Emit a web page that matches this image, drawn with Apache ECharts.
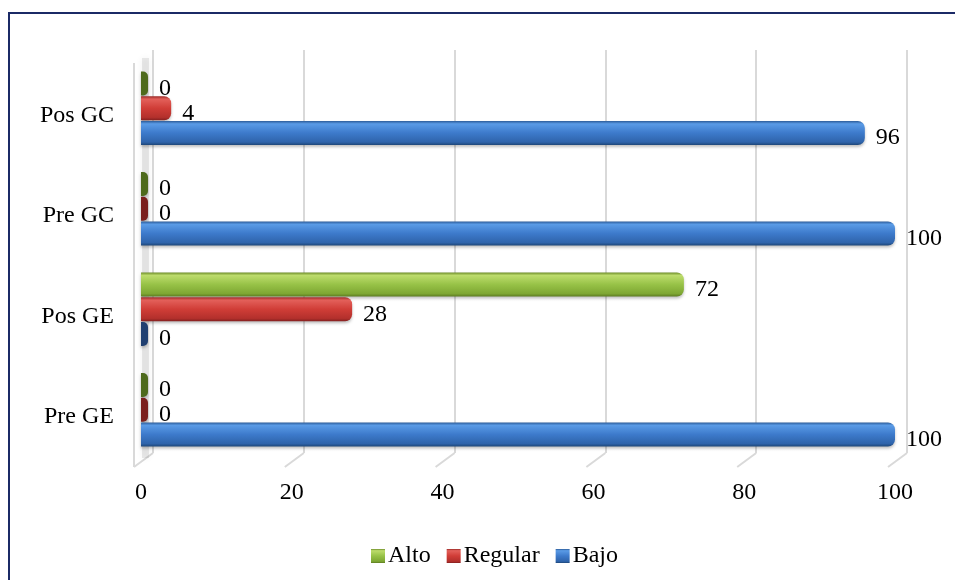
<!DOCTYPE html>
<html>
<head>
<meta charset="utf-8">
<script src="https://cdn.jsdelivr.net/npm/echarts@6/dist/echarts.min.js"></script>
<style>
html, body { margin: 0; padding: 0; background: #ffffff; }
#chart { width: 955px; height: 580px; }
</style>
</head>
<body>
<div id="chart"></div>
<script>
// Categories, bottom to top
const categories = ['Pre GE', 'Pos GE', 'Pre GC', 'Pos GC'];
// Series values (%)
const bajo = [100, 0, 100, 96];
const regular = [0, 28, 0, 4];
const alto = [0, 72, 0, 0];
// Value axis ticks
const xTicks = [0, 20, 40, 60, 80, 100];

const FONT = "'Liberation Serif', 'Times New Roman', serif";
const FS = 24;

function cylinder(stops) {
  return new echarts.graphic.LinearGradient(0, 0, 0, 1, stops.map(c => ({ offset: c[0], color: c[1] })));
}

const palette = {
  Bajo: {
    fill: cylinder([[0, '#2c5b98'], [0.12, '#5a9be6'], [0.5, '#3d7acb'], [0.88, '#2f64ab'], [1, '#1e4779']]),
    zero: '#1f3f70', legend: '#3b76c4'
  },
  Regular: {
    fill: cylinder([[0, '#9a2a27'], [0.12, '#e3605a'], [0.5, '#d03d37'], [0.88, '#b3302c'], [1, '#842020']]),
    zero: '#7a1f1d', legend: '#c9393a'
  },
  Alto: {
    fill: cylinder([[0, '#6e8d2a'], [0.12, '#bddc6c'], [0.5, '#97c247'], [0.88, '#7ea733'], [1, '#5c7b20']]),
    zero: '#4e6a1c', legend: '#8fb83e'
  }
};

function barSeries(name, values) {
  const p = palette[name];
  return {
    name: name,
    type: 'bar',
    xAxisIndex: 0,
    yAxisIndex: 0,
    barWidth: 24,
    barGap: '3%',
    barCategoryGap: '27%',
    barMinHeight: 7,
    color: p.legend,
    data: values.map(v => ({
      value: v,
      itemStyle: v === 0 ? { color: p.zero, borderRadius: [0, 5, 5, 0] } : undefined
    })),
    itemStyle: {
      color: p.fill,
      borderRadius: [0, 7, 7, 0],
      shadowColor: 'rgba(0,0,0,0.25)',
      shadowBlur: 3,
      shadowOffsetY: 2
    },
    label: {
      show: true,
      position: 'right',
      distance: 11,
      offset: [0, 5],
      color: '#000',
      fontFamily: FONT,
      fontSize: FS
    },
    z: 3
  };
}

const chart = echarts.init(document.getElementById('chart'), null, { renderer: 'canvas' });

chart.setOption({
  animation: false,
  backgroundColor: '#ffffff',
  grid: [
    { left: 141, width: 754, top: 58, height: 402 },   // front plane: bars
    { left: 153, width: 754, top: 50, height: 403 },   // back wall: gridlines
    { left: 141, width: 754, top: 65, height: 402 }    // category labels
  ],
  xAxis: [
    {
      gridIndex: 0, type: 'value', min: 0, max: 100, interval: 20,
      axisLine: { show: false }, axisTick: { show: false }, splitLine: { show: false },
      axisLabel: { color: '#000', fontFamily: FONT, fontSize: FS, margin: 21 }
    },
    {
      gridIndex: 1, type: 'value', min: 0, max: 100, interval: 20,
      axisLine: { show: false }, axisTick: { show: false }, axisLabel: { show: false },
      splitLine: { show: true, lineStyle: { color: '#d9d9d9', width: 2 } }
    },
    { gridIndex: 2, type: 'value', min: 0, max: 100, show: false, splitLine: { show: false } }
  ],
  yAxis: [
    { gridIndex: 0, type: 'category', data: categories, show: false },
    { gridIndex: 1, type: 'value', show: false, splitLine: { show: false } },
    {
      gridIndex: 2, type: 'category', data: categories,
      axisLine: { show: false }, axisTick: { show: false },
      axisLabel: { color: '#000', fontFamily: FONT, fontSize: FS, margin: 27 }
    }
  ],
  legend: {
    data: ['Alto', 'Regular', 'Bajo'],
    left: 366,
    top: 539,
    icon: 'rect',
    itemWidth: 14,
    itemHeight: 14,
    itemGap: 16,
    textStyle: { color: '#000', fontFamily: FONT, fontSize: FS, padding: [0, 0, 0, -2] }
  },
  series: [
    barSeries('Alto', alto),
    barSeries('Regular', regular),
    barSeries('Bajo', bajo)
  ]
});

// 3D wall edges: floor diagonals under each back gridline, front edge of the side wall, frame
const backBottom = 453;
const graphics = [];
xTicks.forEach(v => {
  const xb = chart.convertToPixel({ xAxisIndex: 1 }, v);
  graphics.push({
    type: 'line', z: 1, silent: true,
    shape: { x1: xb, y1: backBottom, x2: xb - 19, y2: backBottom + 14 },
    style: { stroke: '#d9d9d9', lineWidth: 2 }
  });
});
const x0 = chart.convertToPixel({ xAxisIndex: 1 }, 0);
graphics.push({
  type: 'line', z: 1, silent: true,
  shape: { x1: x0 - 19, y1: 63, x2: x0 - 19, y2: backBottom + 14 },
  style: { stroke: '#d9d9d9', lineWidth: 2 }
});
graphics.push({
  type: 'rect', z: 1, silent: true,
  shape: { x: x0 - 11, y: 58, width: 7, height: 400 },
  style: { fill: 'rgba(150,150,150,0.2)', shadowBlur: 7, shadowColor: 'rgba(0,0,0,0.3)' }
});
graphics.push({
  type: 'polyline', z: 10, silent: true,
  shape: { points: [[9, 580], [9, 13], [955, 13]] },
  style: { stroke: '#1b2a66', lineWidth: 2, fill: null }
});
chart.setOption({ graphic: graphics });
</script>
</body>
</html>
